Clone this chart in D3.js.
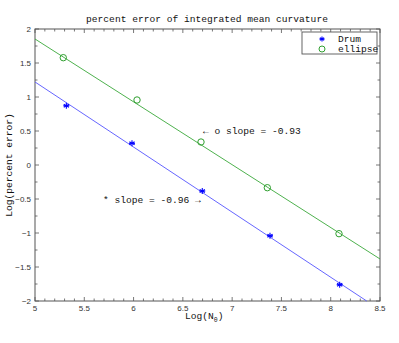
<!DOCTYPE html>
<html><head><meta charset="utf-8">
<script src="https://cdn.jsdelivr.net/npm/d3@7"></script>
<style>body{margin:0;background:#fff}</style>
</head><body>
<svg id="c" width="399" height="343"></svg>
<script>
const drumX = [5.318, 5.984, 6.697, 7.384, 8.091];
const drumY = [0.872, 0.319, -0.382, -1.04, -1.76];
const ellX = [5.287, 6.035, 6.684, 7.357, 8.084];
const ellY = [1.578, 0.956, 0.338, -0.334, -1.01];
// fitted lines: [x0, y0, x1, y1]
const drumFit = [5, 1.221, 8.365, -2];
const ellFit = [5, 1.853, 8.5, -1.382];
const xTicks = [5, 5.5, 6, 6.5, 7, 7.5, 8, 8.5];
const yTicks = [-2, -1.5, -1, -0.5, 0, 0.5, 1, 1.5, 2];
const title = "percent error of integrated mean curvature";
const yLabel = "Log(percent error)";
const legendLabels = ["Drum", "ellipse"];
const annEll = "\u2190 o slope = -0.93";
const annDrum = "* slope = -0.96 \u2192";

const svg = d3.select("#c");
const L = 35, R = 380, T = 29, B = 301;
const x = d3.scaleLinear().domain([5, 8.5]).range([L, R]);
const y = d3.scaleLinear().domain([-2, 2]).range([B, T]);
const mono = "'Liberation Mono', 'DejaVu Sans Mono', monospace";
const sans = "'Liberation Sans', Arial, sans-serif";
const axisCol = "#555";
const blue = "#0000ff", green = "#2f9f2f";

// ticks
const xMinor = d3.range(5, 8.5001, 0.1);
const yMinor = d3.range(-2, 2.0001, 0.25);
const g = svg.append("g");
xMinor.forEach(v => {
  const major = xTicks.some(t => Math.abs(t - v) < 1e-6);
  const len = major ? 4 : 2.5;
  g.append("line").attr("x1", x(v)).attr("x2", x(v)).attr("y1", B).attr("y2", B - len).attr("stroke", axisCol).attr("stroke-width", 0.8);
  g.append("line").attr("x1", x(v)).attr("x2", x(v)).attr("y1", T).attr("y2", T + len).attr("stroke", axisCol).attr("stroke-width", 0.8);
});
yMinor.forEach(v => {
  const major = yTicks.some(t => Math.abs(t - v) < 1e-6);
  const len = major ? 4 : 2.5;
  g.append("line").attr("y1", y(v)).attr("y2", y(v)).attr("x1", L).attr("x2", L + len).attr("stroke", axisCol).attr("stroke-width", 0.8);
  g.append("line").attr("y1", y(v)).attr("y2", y(v)).attr("x1", R).attr("x2", R - len).attr("stroke", axisCol).attr("stroke-width", 0.8);
});
svg.append("rect").attr("x", L).attr("y", T).attr("width", R - L).attr("height", B - T)
  .attr("fill", "none").attr("stroke", axisCol).attr("stroke-width", 1);

// tick labels
const fmt = v => String(v).replace("-", "\u2212");
xTicks.forEach(v => {
  svg.append("text").attr("x", x(v)).attr("y", 311).attr("text-anchor", "middle")
    .attr("font-family", sans).attr("font-size", 8).attr("fill", "#333").text(v);
});
yTicks.forEach(v => {
  svg.append("text").attr("x", 31).attr("y", y(v) + 3).attr("text-anchor", "end")
    .attr("font-family", sans).attr("font-size", 8).attr("fill", "#333").text(fmt(v));
});

// lines
const line = d3.line().x(d => x(d[0])).y(d => y(d[1]));
svg.append("path").attr("d", line([[drumFit[0], drumFit[1]], [drumFit[2], drumFit[3]]]))
  .attr("stroke", "#5555ff").attr("stroke-width", 0.9).attr("fill", "none");
svg.append("path").attr("d", line([[ellFit[0], ellFit[1]], [ellFit[2], ellFit[3]]]))
  .attr("stroke", "#3aa83a").attr("stroke-width", 0.9).attr("fill", "none");

// markers
function star(sel, cx, cy, r) {
  const gg = sel.append("g").attr("transform", `translate(${cx},${cy})`);
  [0, 60, 120].forEach(a => {
    const rad = a * Math.PI / 180;
    gg.append("line").attr("x1", -r * Math.sin(rad)).attr("y1", -r * Math.cos(rad))
      .attr("x2", r * Math.sin(rad)).attr("y2", r * Math.cos(rad))
      .attr("stroke", blue).attr("stroke-width", 1.1);
  });
  gg.append("line").attr("x1", -r).attr("x2", r).attr("y1", 0).attr("y2", 0).attr("stroke", blue).attr("stroke-width", 1.1);
}
drumX.forEach((v, i) => star(svg, x(v), y(drumY[i]), 3));
ellX.forEach((v, i) => {
  svg.append("circle").attr("cx", x(v)).attr("cy", y(ellY[i])).attr("r", 3.2)
    .attr("fill", "none").attr("stroke", green).attr("stroke-width", 1);
});

// title and labels
svg.append("text").attr("x", 207).attr("y", 22).attr("text-anchor", "middle")
  .attr("font-family", mono).attr("font-size", 9.6).attr("fill", "#111").text(title);
svg.append("text").attr("transform", "translate(12,165) rotate(-90)").attr("text-anchor", "middle")
  .attr("font-family", mono).attr("font-size", 9.6).attr("fill", "#111").text(yLabel);
const xl = svg.append("text").attr("x", 185).attr("y", 319)
  .attr("font-family", mono).attr("font-size", 9.6).attr("fill", "#111");
xl.append("tspan").text("Log(N");
xl.append("tspan").attr("font-size", 6.5).attr("dy", 3).text("0");
xl.append("tspan").attr("dy", -3).text(")");

// annotations
svg.append("text").attr("x", 203).attr("y", 134).attr("font-family", mono).attr("font-size", 9.6)
  .attr("fill", "#111").text(annEll);
svg.append("text").attr("x", 103).attr("y", 203).attr("font-family", mono).attr("font-size", 9.6)
  .attr("fill", "#111").text(annDrum);

// legend
svg.append("rect").attr("x", 302).attr("y", 32).attr("width", 75).attr("height", 22)
  .attr("fill", "#fff").attr("stroke", axisCol).attr("stroke-width", 0.9);
star(svg, 322, 39, 2.5);
svg.append("circle").attr("cx", 322).attr("cy", 49).attr("r", 3).attr("fill", "none").attr("stroke", green).attr("stroke-width", 1);
legendLabels.forEach((t, i) => {
  svg.append("text").attr("x", 338).attr("y", 42 + i * 10).attr("font-family", mono).attr("font-size", 9.6)
    .attr("fill", "#111").text(t);
});
</script>
</body></html>
